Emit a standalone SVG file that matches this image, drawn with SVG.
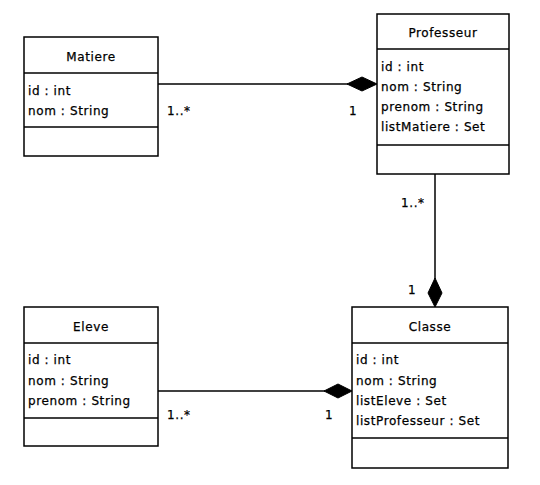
<svg xmlns="http://www.w3.org/2000/svg" width="540" height="485" viewBox="0 0 540 485">
<style>
.box{fill:#fff;stroke:#000;stroke-width:1.5}
.sep{stroke:#000;stroke-width:1.5}
.t{font-family:"DejaVu Sans","Liberation Sans",sans-serif;font-size:12px;letter-spacing:0.6px;fill:#000;stroke:#000;stroke-width:0.25}
.c{text-anchor:middle}
.ln{stroke:#000;stroke-width:1.5;fill:none}
.dia{fill:#000;stroke:#000}
</style>
<rect width="540" height="485" fill="#fff"/>
<g id="connectors">
<line class="ln" x1="158" y1="84" x2="348" y2="84"/>
<polygon class="dia" points="377,84 362,77 347,84 362,91"/>
<text class="t" x="167" y="115">1..*</text>
<text class="t" x="349" y="115">1</text>
<line class="ln" x1="435" y1="174" x2="435" y2="279"/>
<polygon class="dia" points="435,307 428,293 435,278 442,293"/>
<text class="t" x="401" y="207">1..*</text>
<text class="t" x="408" y="294">1</text>
<line class="ln" x1="158" y1="391" x2="325" y2="391"/>
<polygon class="dia" points="352,391 338,384 324,391 338,398"/>
<text class="t" x="167" y="419">1..*</text>
<text class="t" x="325" y="419">1</text>
</g>
<g id="Matiere">
<rect class="box" x="24" y="37" width="134" height="119"/>
<line class="sep" x1="24" y1="73" x2="158" y2="73"/>
<line class="sep" x1="24" y1="127" x2="158" y2="127"/>
<text class="t c" x="91" y="61">Matiere</text>
<text class="t" x="28" y="95">id : int</text>
<text class="t" x="28" y="115">nom : String</text>
</g>
<g id="Professeur">
<rect class="box" x="377" y="14" width="132" height="160"/>
<line class="sep" x1="377" y1="49" x2="509" y2="49"/>
<line class="sep" x1="377" y1="145" x2="509" y2="145"/>
<text class="t c" x="443" y="37">Professeur</text>
<text class="t" x="381" y="71">id : int</text>
<text class="t" x="381" y="91">nom : String</text>
<text class="t" x="381" y="111">prenom : String</text>
<text class="t" x="381" y="131">listMatiere : Set</text>
</g>
<g id="Eleve">
<rect class="box" x="24" y="307" width="134" height="139"/>
<line class="sep" x1="24" y1="343" x2="158" y2="343"/>
<line class="sep" x1="24" y1="418" x2="158" y2="418"/>
<text class="t c" x="91" y="331">Eleve</text>
<text class="t" x="28" y="364">id : int</text>
<text class="t" x="28" y="385">nom : String</text>
<text class="t" x="28" y="405">prenom : String</text>
</g>
<g id="Classe">
<rect class="box" x="352" y="307" width="156" height="161"/>
<line class="sep" x1="352" y1="343" x2="508" y2="343"/>
<line class="sep" x1="352" y1="438" x2="508" y2="438"/>
<text class="t c" x="430" y="331">Classe</text>
<text class="t" x="356" y="364">id : int</text>
<text class="t" x="356" y="385">nom : String</text>
<text class="t" x="356" y="405">listEleve : Set</text>
<text class="t" x="356" y="425">listProfesseur : Set</text>
</g>
</svg>
